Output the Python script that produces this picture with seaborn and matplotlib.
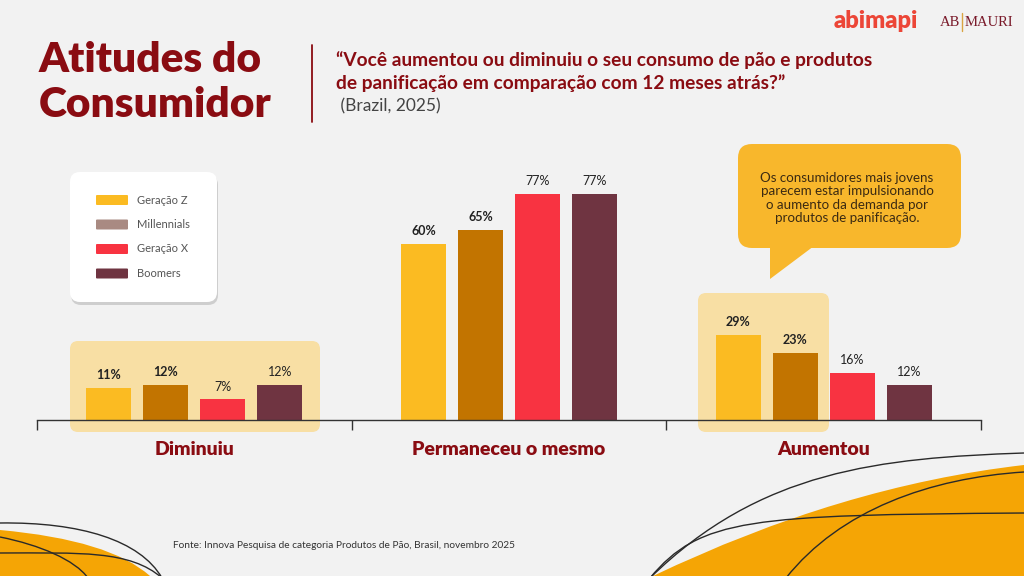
import matplotlib
matplotlib.use("Agg")
import matplotlib.pyplot as plt
from matplotlib.patches import FancyBboxPatch, Polygon, PathPatch
from matplotlib.path import Path
import seaborn as sns
import pandas as pd

# ---------------- data ----------------
categories = ["Diminuiu", "Permaneceu o mesmo", "Aumentou"]
generations = ["Geração Z", "Millennials", "Geração X", "Boomers"]
gen_z = [11, 60, 29]
millennials = [12, 65, 23]
gen_x = [7, 77, 16]
boomers = [12, 77, 12]

title_lines = ["Atitudes do", "Consumidor"]
question_lines = ["“Você aumentou ou diminuiu o seu consumo de pão e produtos",
                  "de panificação em comparação com 12 meses atrás?”"]
question_note = " (Brazil, 2025)"
bubble_text = ("Os consumidores mais jovens\nparecem estar impulsionando\n"
               "o aumento da demanda por\nprodutos de panificação.")
source_text = "Fonte: Innova Pesquisa de categoria Produtos de Pão, Brasil, novembro 2025"

# ---------------- style ----------------
BG = "#f2f2f2"
DARKRED = "#8a0c12"
bar_colors = ["#fbbb22", "#c27400", "#f83341", "#6f3441"]
legend_colors = ["#fbbb22", "#a98a82", "#f83341", "#6f3441"]
HIGHLIGHT = "#f8dfa4"
ORANGE = "#f5a505"

sns.set_theme(style="white")
plt.rcParams["font.family"] = ["Lato", "DejaVu Sans"]

W, H = 1024, 576
fig = plt.figure(figsize=(W / 100, H / 100), dpi=100, facecolor=BG)

# background overlay in pixel coordinates
bg = fig.add_axes([0, 0, 1, 1], zorder=0)
bg.set_xlim(0, W)
bg.set_ylim(H, 0)
bg.axis("off")
bg.set_facecolor(BG)

# bottom-right orange shape
P = Path([(653, 576), (841, 486), (1024, 465), (1024, 576), (653, 576)],
         [Path.MOVETO, Path.CURVE3, Path.CURVE3, Path.LINETO, Path.CLOSEPOLY])
bg.add_patch(PathPatch(P, facecolor=ORANGE, edgecolor="none", zorder=1))
# bottom-left orange shape
P = Path([(0, 530), (110, 540), (150, 576), (0, 576), (0, 530)],
         [Path.MOVETO, Path.CURVE3, Path.CURVE3, Path.LINETO, Path.CLOSEPOLY])
bg.add_patch(PathPatch(P, facecolor=ORANGE, edgecolor="none", zorder=1))

line_kw = dict(facecolor="none", edgecolor="#2a2a2a", lw=1.0, zorder=2)
curves = [
    [(650, 578), (760, 470), (880, 458), (1024, 453)],
    [(650, 578), (700, 518), (750, 515), (1024, 513)],
    [(786, 578), (840, 510), (930, 478), (1024, 472)],
    [(0, 523), (80, 522), (140, 540), (162, 578)],
    [(0, 553), (80, 553), (130, 550), (162, 578)],
    [(0, 537), (40, 545), (75, 560), (88, 578)],
]
for pts in curves:
    bg.add_patch(PathPatch(Path(pts, [Path.MOVETO, Path.CURVE4, Path.CURVE4, Path.CURVE4]),
                           **line_kw))

# highlight boxes
for (x0, y0, x1, y1) in [(70, 341, 320, 432), (698, 293, 829, 432)]:
    bg.add_patch(FancyBboxPatch((x0 + 8, y0 + 8), x1 - x0 - 16, y1 - y0 - 16,
                                boxstyle="round,pad=8", facecolor=HIGHLIGHT,
                                edgecolor="none", zorder=3))

# title
bg.text(39, 60, title_lines[0], fontsize=30.5, fontweight="heavy", color=DARKRED,
        va="center", ha="left")
bg.text(39, 105, title_lines[1], fontsize=30.5, fontweight="heavy", color=DARKRED,
        va="center", ha="left")
bg.plot([312, 312], [45, 122], color=DARKRED, lw=1.3)

# question
bg.text(336, 60, question_lines[0], fontsize=13.8, fontweight="bold", color=DARKRED,
        va="center", ha="left")
bg.text(336, 83, question_lines[1], fontsize=13.8, fontweight="bold", color=DARKRED,
        va="center", ha="left")
bg.text(336, 106, question_note, fontsize=12.5, color="#444444", va="center", ha="left")

# logos
bg.text(834, 21, "abimapi", fontsize=17, fontweight="heavy", color="#ec4637",
        va="center", ha="left")
bg.text(940, 22, "AB", fontsize=10.5, family=["Liberation Serif", "DejaVu Serif"],
        color="#7a1a2a", va="center", ha="left")
bg.plot([962, 962], [13, 31], color="#d9a441", lw=1)
bg.text(965, 22, "MAURI", fontsize=10.5, family=["Liberation Serif", "DejaVu Serif"],
        color="#7a1a2a", va="center", ha="left")

# legend card
lx0, ly0, lx1, ly1 = 70, 172, 217, 302
bg.add_patch(FancyBboxPatch((lx0 + 10 + 1, ly0 + 10 + 3), lx1 - lx0 - 20, ly1 - ly0 - 20,
                            boxstyle="round,pad=10", facecolor="#9a9a9a", alpha=0.4,
                            edgecolor="none", zorder=4))
bg.add_patch(FancyBboxPatch((lx0 + 10, ly0 + 10), lx1 - lx0 - 20, ly1 - ly0 - 20,
                            boxstyle="round,pad=10", facecolor="white",
                            edgecolor="none", zorder=5))
for i, (g, c) in enumerate(zip(generations, legend_colors)):
    yy = 200 + i * 24.5
    bg.add_patch(FancyBboxPatch((97, yy - 4), 30, 8, boxstyle="round,pad=1",
                                facecolor=c, edgecolor="none", zorder=6))
    bg.text(137, yy, g, fontsize=8, color="#555555", va="center", ha="left", zorder=7)

# speech bubble
bg.add_patch(FancyBboxPatch((752, 158), 195, 76, boxstyle="round,pad=14",
                            facecolor="#f8b72c", edgecolor="none", zorder=4))
bg.add_patch(Polygon([(770, 240), (770, 279), (822, 240)], closed=True,
                     facecolor="#f8b72c", edgecolor="none", zorder=4))
bg.text(847, 198, bubble_text, fontsize=9.6, color="#3b2a12", va="center", ha="center",
        linespacing=1.12, zorder=5)

# source
bg.text(173, 545, source_text, fontsize=7.3, color="#333333", va="center", ha="left")

# ---------------- main bar chart ----------------
rows = []
for gname, vals in zip(generations, [gen_z, millennials, gen_x, boomers]):
    for cat, v in zip(categories, vals):
        rows.append({"categoria": cat, "geração": gname, "valor": v})
df = pd.DataFrame(rows)

axis_y = 420
px_per_unit = 2.93
ax_top = 130
ax = fig.add_axes([37 / W, (H - axis_y) / H, (981 - 37) / W, (axis_y - ax_top) / H], zorder=1)
ax.patch.set_alpha(0)
sns.barplot(data=df, x="categoria", y="valor", hue="geração", order=categories,
            hue_order=generations, palette=bar_colors, saturation=1,
            width=0.724, gap=0.21, legend=False, ax=ax, errorbar=None,
            edgecolor="none", linewidth=0)
ax.set_xlim(-0.5, 2.5)
ax.set_ylim(0, (axis_y - ax_top) / px_per_unit)

for i, cont in enumerate(ax.containers):
    ax.bar_label(cont, fmt="%d%%", padding=5, fontsize=9,
                 fontweight="bold" if i < 2 else "normal", color="#222222")

for s in ["top", "right", "left"]:
    ax.spines[s].set_visible(False)
ax.spines["bottom"].set_color("#333333")
ax.spines["bottom"].set_linewidth(1.0)
ax.set_yticks([])
ax.set_xlabel("")
ax.set_ylabel("")
ax.set_xticks(range(len(categories)))
ax.set_xticklabels(categories, fontsize=14, fontweight="heavy", color=DARKRED)
ax.tick_params(axis="x", which="major", bottom=True, length=0, pad=15)
ax.set_xticks([-0.5, 0.5, 1.5, 2.5], minor=True)
ax.tick_params(axis="x", which="minor", bottom=True, length=7, width=1,
               color="#333333", direction="out")

fig.savefig("out.png", dpi=100, facecolor=BG)
